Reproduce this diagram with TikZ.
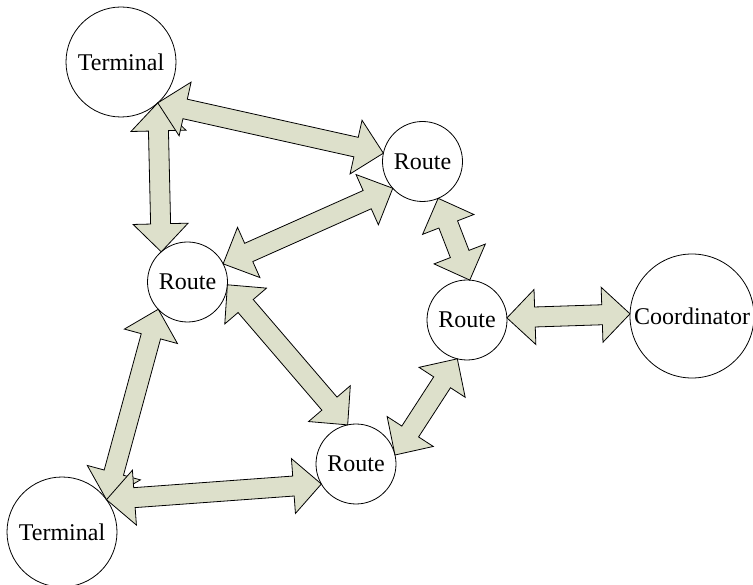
\documentclass[tikz,border=0pt]{standalone}
\usepackage{fontspec}
\setmainfont{Liberation Serif}
\usetikzlibrary{calc}
\definecolor{arrfill}{RGB}{221,224,203}
\tikzset{
  station/.style={circle,draw=black,line width=0.8pt,fill=white,inner sep=0pt,outer sep=0pt,
    font=\fontsize{24}{28}\selectfont},
  route/.style={station,minimum size=80pt},
  terminal/.style={station,minimum size=110pt},
  coord/.style={station,minimum size=124pt},
  blockarrow/.style={draw=black,line width=0.8pt,fill=arrfill,line join=miter}
}
\newcommand\blockarr[2]{%
  \draw[blockarrow] (#1)
    -- ($(#1)!28pt!(#2)!27.5pt!90:(#2)$)
    -- ($(#1)!28pt!(#2)!10pt!90:(#2)$)
    -- ($(#2)!28pt!(#1)!10pt!-90:(#1)$)
    -- ($(#2)!28pt!(#1)!27.5pt!-90:(#1)$)
    -- (#2)
    -- ($(#2)!28pt!(#1)!27.5pt!90:(#1)$)
    -- ($(#2)!28pt!(#1)!10pt!90:(#1)$)
    -- ($(#1)!28pt!(#2)!10pt!-90:(#2)$)
    -- ($(#1)!28pt!(#2)!27.5pt!-90:(#2)$)
    -- cycle;}
\begin{document}
\begin{tikzpicture}[x=1pt,y=-1pt]
\useasboundingbox (0,0) rectangle (753,585);
\node[terminal] (tt) at (121,62) {Terminal};
\node[terminal] (tb) at (62,532) {Terminal};
\node[route] (rtr) at (422.5,161.5) {Route};
\node[route] (rl) at (187.5,282) {Route};
\node[route] (rr) at (467,320) {Route};
\node[route] (rb) at (356,464) {Route};
\node[coord] (co) at (692,316) {Coordinator};
\blockarr{tt.-48}{rl.131}
\blockarr{tt.-48}{rtr.168}
\blockarr{rl.27.5}{rtr.222}
\blockarr{rtr.-67}{rr.86}
\blockarr{rr.3}{co.178}
\blockarr{rr.256}{rb.13}
\blockarr{rl.-4}{rb.102}
\blockarr{rl.223.5}{tb.36}
\blockarr{tb.36}{rb.210}
\end{tikzpicture}
\end{document}
